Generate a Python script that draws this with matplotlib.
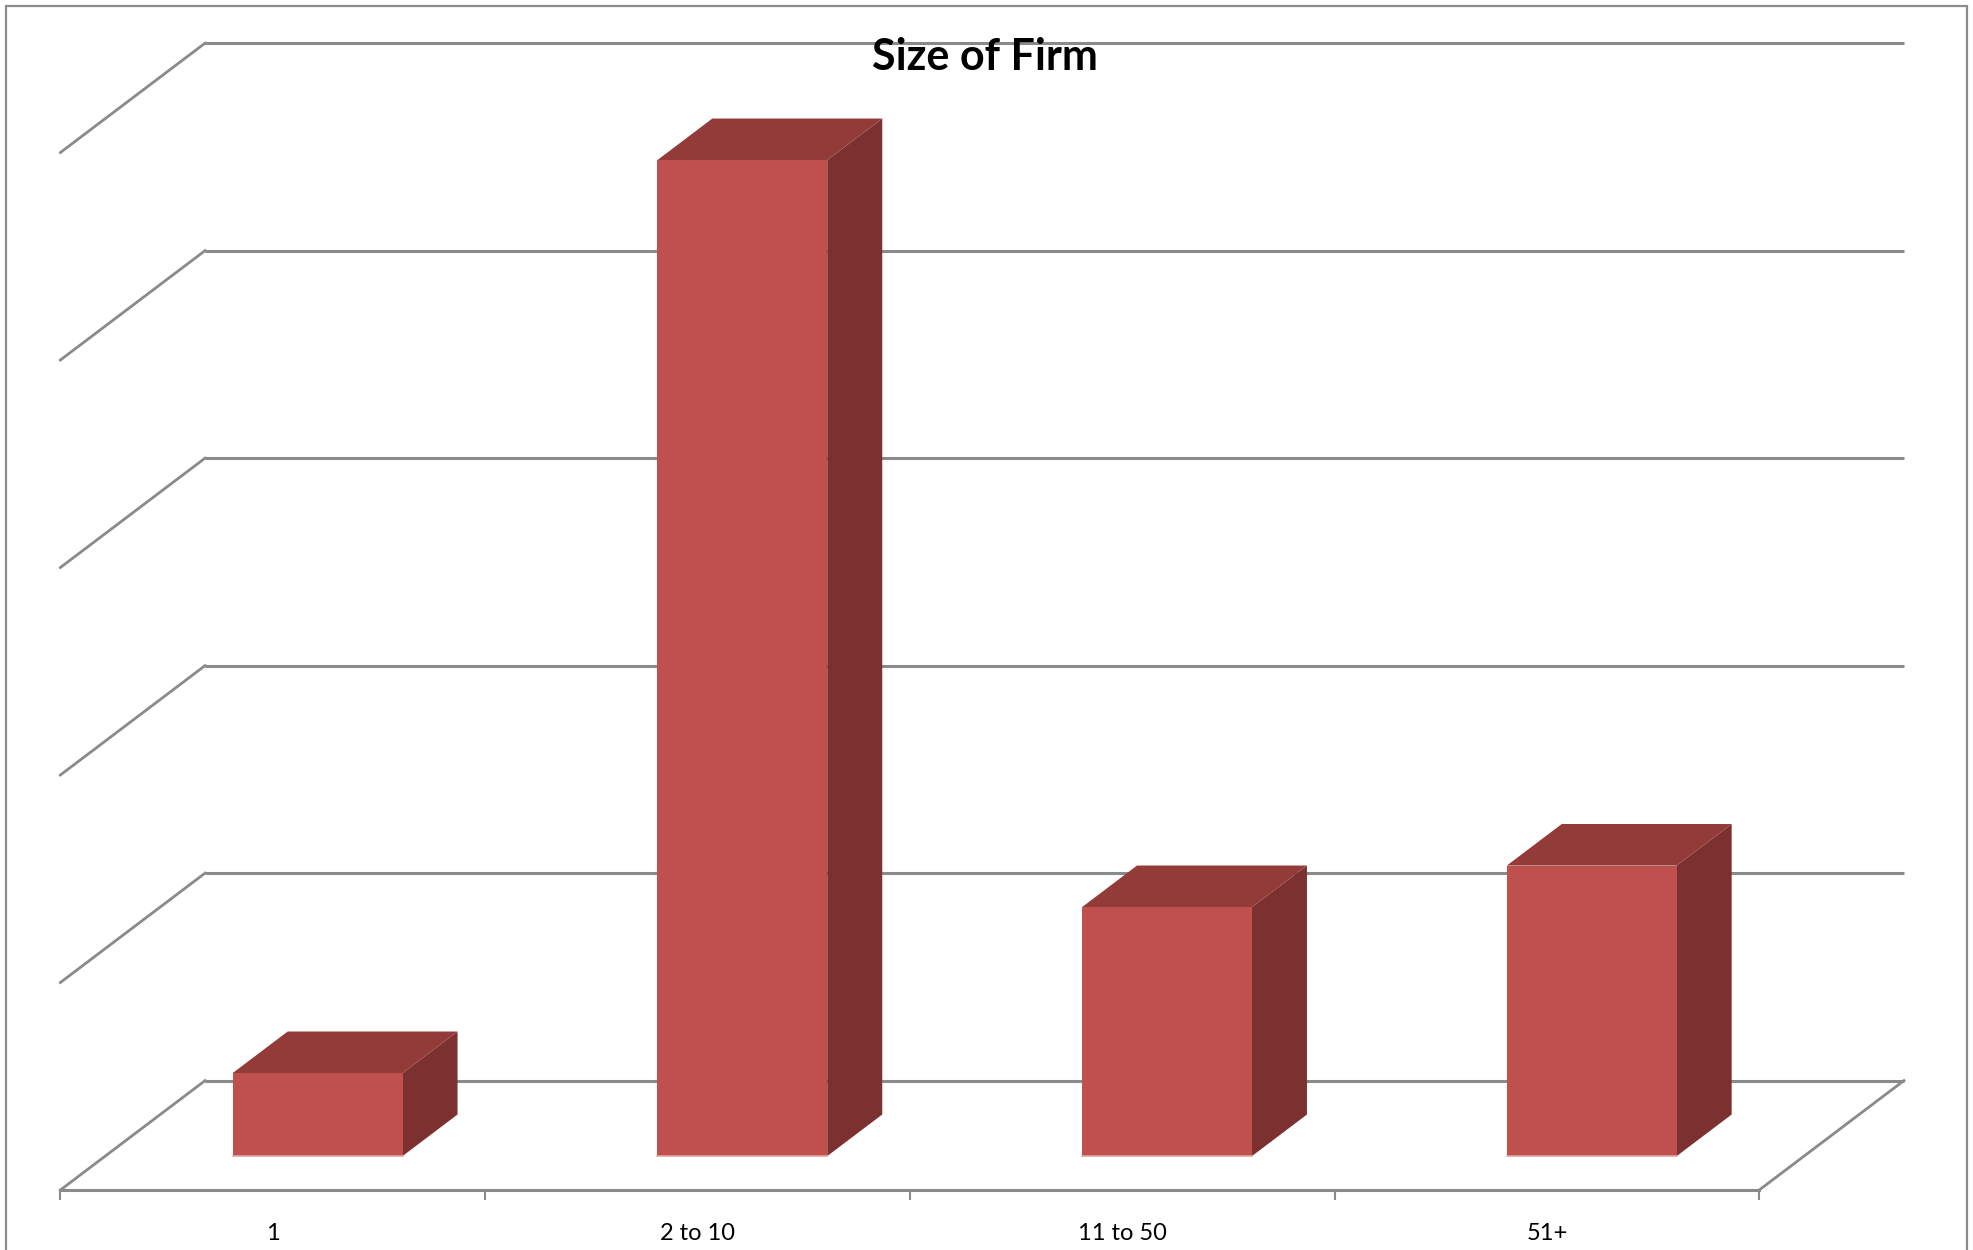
import matplotlib.pyplot as plt
from matplotlib.patches import Polygon, Rectangle

# survey counts by firm size
categories = ["1", "2 to 10", "11 to 50", "51+"]
counts = [2, 24, 6, 7]
grid_values = [0, 5, 10, 15, 20, 25]

# fake-3D layout (category units across, value units up)
wall_dx, wall_dy = 0.3407, 2.636      # depth of floor / side wall
bar_width = 0.4
front_frac, depth_frac = 0.31, 0.38   # bar position inside the depth

front_col = "#C0504D"
top_col = "#923B39"
side_col = "#7C3130"
grid_col = "#8A8A8A"

fig = plt.figure(figsize=(19.73, 12.5), dpi=100)
ax = fig.add_axes([0, 0, 1, 1])
ax.set_xlim(-0.1422, 4.5033)
ax.set_ylim(-1.446, 28.675)
ax.axis("off")

n = len(categories)

# back wall gridlines + their diagonals on the left wall
for g in grid_values:
    ax.plot([wall_dx, n + wall_dx], [g + wall_dy, g + wall_dy],
            color=grid_col, lw=2.2, zorder=1, solid_capstyle="butt")
    ax.plot([0, wall_dx], [g, g + wall_dy], color=grid_col, lw=2.0, zorder=1)

# floor: front edge, right edge and ticks
ax.plot([0, n], [0, 0], color=grid_col, lw=2.2, zorder=1)
ax.plot([n, n + wall_dx], [0, wall_dy], color=grid_col, lw=2.0, zorder=1)
for i in range(n + 1):
    ax.plot([i, i], [0, -0.22], color=grid_col, lw=1.5, zorder=1)

# bars
fx, fy = front_frac * wall_dx, front_frac * wall_dy
ddx, ddy = depth_frac * wall_dx, depth_frac * wall_dy
for i, v in enumerate(counts):
    x0 = i + 0.5 - bar_width / 2 + fx
    x1 = x0 + bar_width
    y0, y1 = fy, fy + v
    ax.add_patch(Polygon([(x1, y0), (x1 + ddx, y0 + ddy), (x1 + ddx, y1 + ddy), (x1, y1)],
                         closed=True, facecolor=side_col, edgecolor="none", zorder=3))
    ax.add_patch(Polygon([(x0, y1), (x1, y1), (x1 + ddx, y1 + ddy), (x0 + ddx, y1 + ddy)],
                         closed=True, facecolor=top_col, edgecolor="none", zorder=3))
    ax.add_patch(Rectangle((x0, y0), bar_width, v, facecolor=front_col,
                           edgecolor="none", zorder=4))
    ax.plot([x0, x1], [y0, y0], color="#E3A3A1", lw=1.2, zorder=5)

# category labels
for i, lab in enumerate(categories):
    ax.text(i + 0.5, -1.04, lab, ha="center", va="center", fontsize=17,
            family="Lato", color="black")

fig.text(985 / 1973, 1 - 57 / 1250, "Size of Firm", ha="center", va="center",
         fontsize=31, fontweight="bold", family="Lato")

# chart area border
fig.patches.append(Rectangle((6 / 1973, -0.01), 1961 / 1973, 1 - 6 / 1250 + 0.01,
                             transform=fig.transFigure, fill=False,
                             edgecolor="#8C8C8C", lw=1.6))

fig.savefig("out.png", dpi=100)
